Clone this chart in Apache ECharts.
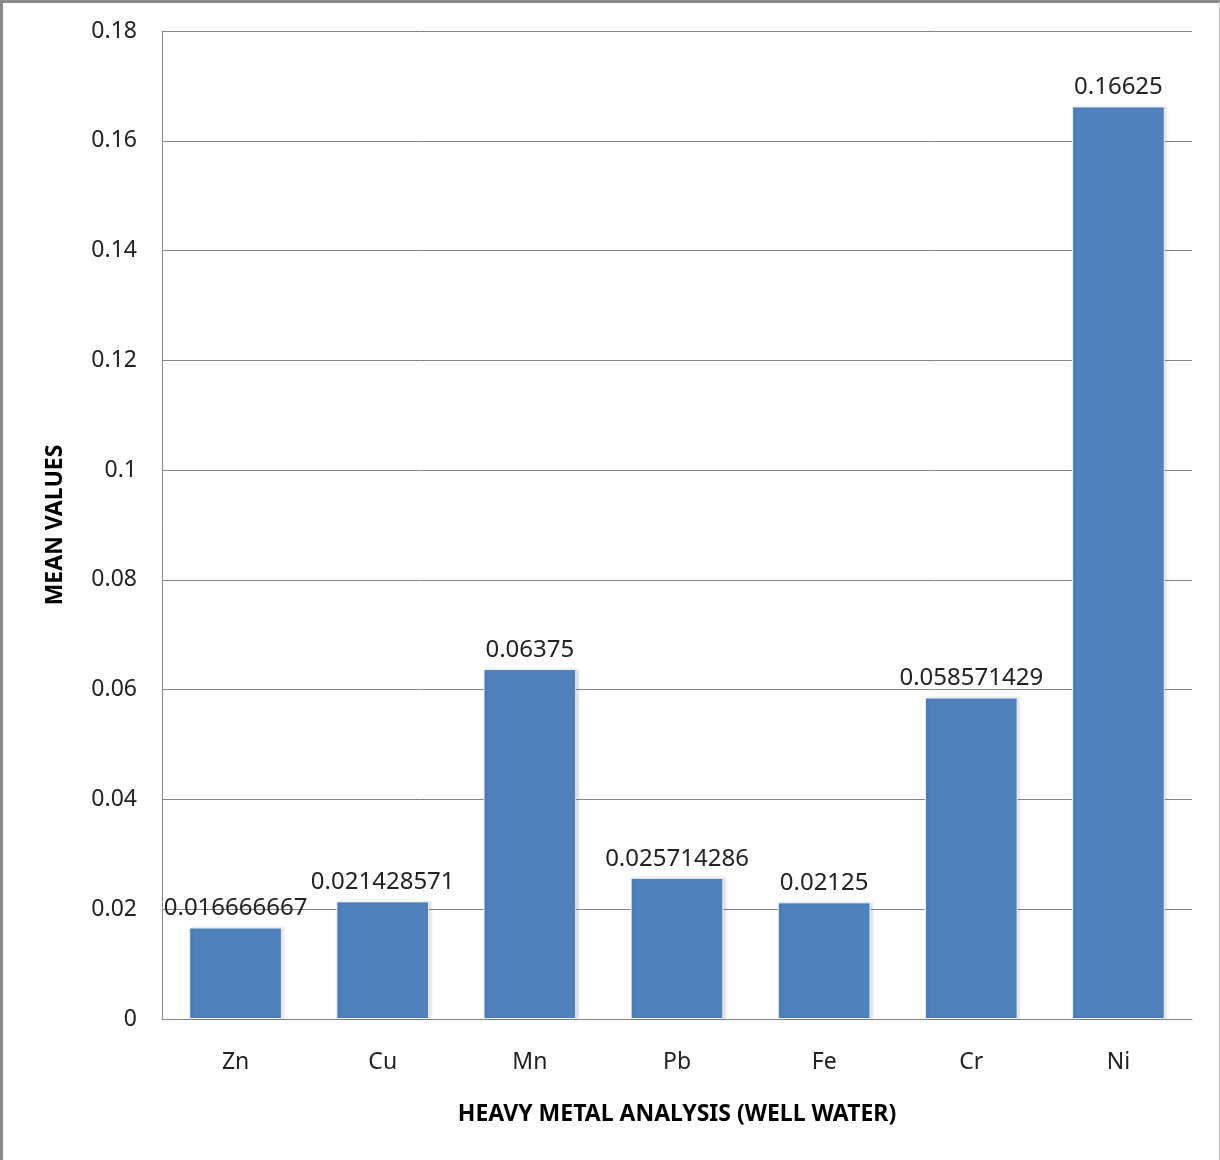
<!DOCTYPE html>
<html>
<head>
<meta charset="utf-8">
<title>Heavy Metal Analysis (Well Water)</title>
<script src="https://cdn.jsdelivr.net/npm/echarts@6/dist/echarts.min.js"></script>
<style>
  html, body { margin: 0; padding: 0; background: #fff; }
  #frame {
    position: absolute; left: 0; top: 0;
    width: 1220px; height: 1160px; box-sizing: border-box;
    border-left: 3px solid #8a8a8a; border-top: 3px solid #8a8a8a;
    border-right: 1px solid #c8c8c8;
  }
  #chart { position: absolute; left: 0; top: 0; width: 1220px; height: 1160px; }
</style>
</head>
<body>
<div id="frame"></div>
<div id="chart"></div>
<script>
// Metals measured and their mean concentrations
const metals = ['Zn', 'Cu', 'Mn', 'Pb', 'Fe', 'Cr', 'Ni'];
const meanValues = [0.016666667, 0.021428571, 0.06375, 0.025714286, 0.02125, 0.058571429, 0.16625];
const yTicks = [0, 0.02, 0.04, 0.06, 0.08, 0.1, 0.12, 0.14, 0.16, 0.18];

const FONT = '"Noto Sans", "Open Sans", sans-serif';
const chart = echarts.init(document.getElementById('chart'), null, { renderer: 'canvas' });

chart.setOption({
  backgroundColor: 'transparent',
  animation: false,
  grid: { left: 162, right: 28, top: 31, bottom: 141, containLabel: false },
  xAxis: {
    type: 'category',
    data: metals,
    name: 'HEAVY METAL ANALYSIS (WELL WATER)',
    nameLocation: 'middle',
    nameGap: 84,
    nameTextStyle: { fontFamily: FONT, fontSize: 23, fontWeight: 'bold', color: '#000' },
    axisLine: { lineStyle: { color: '#868686', width: 1 } },
    axisTick: { show: false },
    axisLabel: { fontFamily: FONT, fontSize: 23, color: '#222', margin: 32 },
    splitLine: { show: false }
  },
  yAxis: {
    type: 'value',
    min: yTicks[0],
    max: yTicks[yTicks.length - 1],
    interval: 0.02,
    name: 'MEAN VALUES',
    nameLocation: 'middle',
    nameGap: 95,
    nameRotate: 90,
    nameTextStyle: { fontFamily: FONT, fontSize: 23, fontWeight: 'bold', color: '#000' },
    axisLine: { show: true, lineStyle: { color: '#868686', width: 1 } },
    axisTick: { show: false },
    axisLabel: {
      fontFamily: FONT, fontSize: 23, color: '#222', margin: 25,
      formatter: v => String(parseFloat(v.toFixed(4)))
    },
    splitLine: { show: true, lineStyle: { color: '#868686', width: 1 } }
  },
  series: [{
    type: 'bar',
    data: meanValues,
    barWidth: '63%',
    itemStyle: {
      color: '#4F81BD',
      borderColor: '#eef3fa',
      borderWidth: 1,
      shadowColor: 'rgba(0,0,0,0.15)',
      shadowBlur: 3,
      shadowOffsetX: 2,
      shadowOffsetY: 0
    },
    label: {
      show: true,
      position: 'top',
      distance: 7,
      fontFamily: FONT,
      fontSize: 24,
      color: '#222',
      formatter: p => String(meanValues[p.dataIndex])
    }
  }]
});
</script>
</body>
</html>
